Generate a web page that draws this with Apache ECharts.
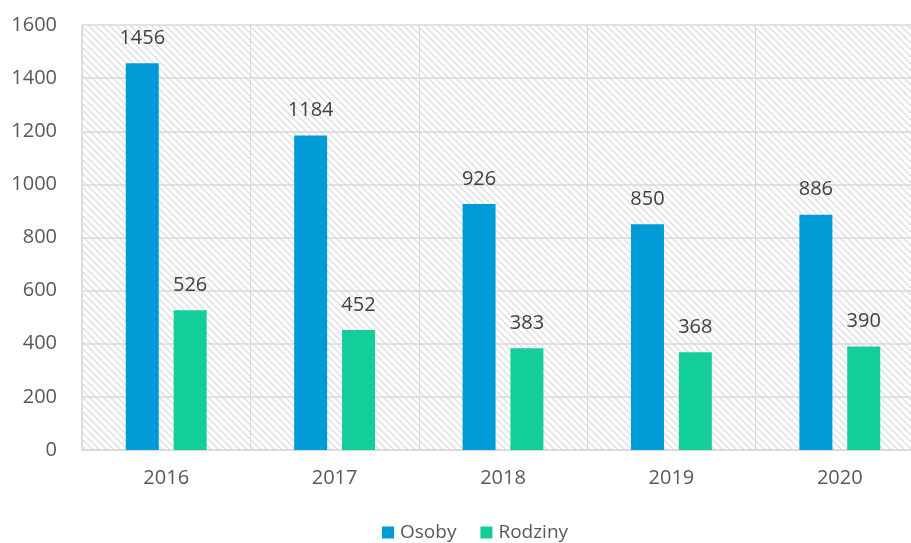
<!DOCTYPE html>
<html>
<head>
<meta charset="utf-8">
<script src="https://cdn.jsdelivr.net/npm/echarts@6/dist/echarts.min.js"></script>
<style>html,body{margin:0;padding:0;background:#fff}#c{width:911px;height:543px}</style>
</head>
<body>
<div id="c"></div>
<script>
const categories = ['2016', '2017', '2018', '2019', '2020'];
const osoby = [1456, 1184, 926, 850, 886];
const rodziny = [526, 452, 383, 368, 390];
const yTicks = [0, 200, 400, 600, 800, 1000, 1200, 1400, 1600];

const pc = document.createElement('canvas');
pc.width = 7; pc.height = 7;
const g = pc.getContext('2d');
g.fillStyle = '#ffffff'; g.fillRect(0, 0, 7, 7);
g.strokeStyle = '#d9d9d9'; g.lineWidth = 1.2;
g.beginPath();
g.moveTo(-1, -1); g.lineTo(8, 8);
g.moveTo(-8, -1); g.lineTo(1, 8);
g.moveTo(6, -1); g.lineTo(15, 8);
g.stroke();

const chart = echarts.init(document.getElementById('c'));
const font = 'Open Sans';
chart.setOption({
  animation: false,
  backgroundColor: '#ffffff',
  grid: {
    left: 82, width: 842, top: 25, bottom: 93,
    outerBoundsMode: 'none', containLabel: false,
    show: true, borderWidth: 0,
    backgroundColor: { image: pc, repeat: 'repeat' }
  },
  legend: {
    bottom: -4, left: 377,
    itemWidth: 12, itemHeight: 12, itemGap: 24,
    icon: 'rect',
    textStyle: { fontFamily: font, fontSize: 19, color: '#595959', padding: [0, 0, 0, 1] },
    data: ['Osoby', 'Rodziny']
  },
  xAxis: {
    type: 'category', data: categories,
    axisLine: { lineStyle: { color: '#d9d9d9', width: 1.5 } },
    axisTick: { show: false },
    splitLine: { show: true, lineStyle: { color: '#d9d9d9', width: 1 } },
    axisLabel: { fontFamily: font, fontSize: 20, color: '#595959', margin: 18 }
  },
  yAxis: {
    type: 'value', min: yTicks[0], max: yTicks[yTicks.length - 1], interval: 200,
    axisLine: { show: true, lineStyle: { color: '#d9d9d9', width: 1.5 } },
    axisTick: { show: false },
    splitLine: { lineStyle: { color: '#d9d9d9', width: 1.5 } },
    axisLabel: { fontFamily: font, fontSize: 20, color: '#595959', margin: 25, formatter: v => String(v) }
  },
  series: [
    {
      name: 'Osoby', type: 'bar', data: osoby,
      barWidth: 33, barGap: '45%',
      itemStyle: { color: '#009BD6' },
      label: { show: true, position: 'top', distance: 15, fontFamily: font, fontSize: 20, color: '#404040' }
    },
    {
      name: 'Rodziny', type: 'bar', data: rodziny,
      barWidth: 33,
      itemStyle: { color: '#13CE9A' },
      label: { show: true, position: 'top', distance: 15, fontFamily: font, fontSize: 20, color: '#404040' }
    }
  ]
});
</script>
</body>
</html>
